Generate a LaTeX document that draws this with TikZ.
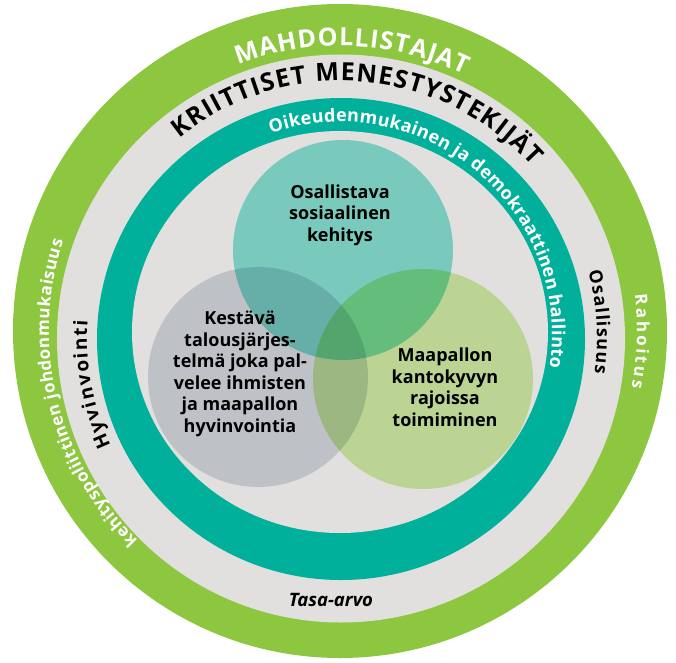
\documentclass[tikz,border=0pt]{standalone}
\usepackage{fontspec}
\setmainfont{Open Sans}
\usetikzlibrary{decorations.text}

\definecolor{ringgreen}{RGB}{141,198,63}
\definecolor{ringgrey}{RGB}{225,224,223}
\definecolor{ringteal}{RGB}{0,176,155}
\definecolor{vennteal}{RGB}{138,229,216}
\definecolor{venngrey}{RGB}{216,221,228}
\definecolor{venngreen}{RGB}{212,241,169}
\newcommand\bigring{\fontsize{25}{25}\selectfont\bfseries}
\newcommand\midring{\fontsize{18}{18}\selectfont\bfseries}
\newcommand\smallring{\fontsize{17}{17}\selectfont\bfseries}

\begin{document}
\begin{tikzpicture}[x=1pt, y=1pt,
  venntext/.style={align=center, font=\fontsize{18}{21.5}\selectfont\bfseries},
  ringtext/.style={decorate, decoration={text along path, text align=fit to path, text={#1}}},
  white text/.style={decoration={text color=white}}]

  \useasboundingbox (-340,-331) rectangle (336,331);
  \fill[ringgreen] (0,0) circle[radius=327pt];
  \fill[ringgrey] (1,-7.5) circle[radius=284pt];
  \fill[ringteal] (1,-8) ellipse[x radius=244pt, y radius=241pt];
  \fill[ringgrey] (0,-1) ellipse[x radius=208pt, y radius=201pt];

  \fill[venngrey, blend mode=multiply] (-82,-46) circle[radius=110pt];
  \fill[venngreen, blend mode=multiply] (83,-48) circle[radius=110pt];
  \fill[vennteal, blend mode=multiply] (3,81) circle[radius=110pt];

  \node[venntext] (social) at (0,116) {Osallistava\\sosiaalinen\\kehitys};
  \node[venntext] (economy) at (-100,-43) {Kestävä\\talousjärjes-\\telmä joka pal-\\velee ihmisten\\ja maapallon\\hyvinvointia};
  \node[venntext] (planet) at (105,-56) {Maapallon\\kantokyvyn\\rajoissa\\toimiminen};

  \path[ringtext={|\bigring|MAHDOLLISTAJAT}, white text] (111:285) arc[start angle=111, end angle=64, radius=285pt];
  \path[ringtext={|\smallring|kehityspoliittinen johdonmukaisuus}, white text] (226:291) arc[start angle=226, end angle=162, radius=291pt];
  \path[ringtext={|\smallring|Rahoitus}, white text] (7:297) arc[start angle=7, end angle=-11, radius=297pt];
  \begin{scope}[shift={(1,-7)}]
    \path[ringtext={|\bigring|KRIITTISET MENESTYSTEKIJÄT}] (129:257) arc[start angle=129, end angle=42, radius=257pt];
    \path[ringtext={|\midring|Osallisuus}] (15:256) arc[start angle=15, end angle=-8, radius=256pt];
    \path[ringtext={|\fontsize{19}{19}\selectfont\bfseries|Hyvinvointi}] (205:254) arc[start angle=205, end angle=176, radius=254pt];
  \end{scope}
  \path[shift={(0,-3)}, ringtext={|\midring|Oikeudenmukainen ja demokraattinen hallinto}, white text] (109:212) arc[start angle=109, end angle=-9, radius=212pt];

  \node[font=\fontsize{18.5}{18.5}\selectfont\bfseries\itshape] (equality) at (-9,-269) {Tasa-arvo};
\end{tikzpicture}
\end{document}
